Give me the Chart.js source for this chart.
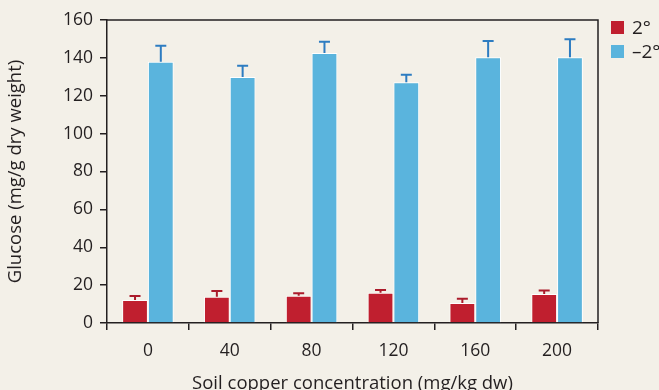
<!DOCTYPE html>
<html>
<head>
<meta charset="utf-8">
<script src="https://cdn.jsdelivr.net/npm/chart.js@4/dist/chart.umd.min.js"></script>
<style>
  html, body { margin: 0; padding: 0; background: #f3f0e8; overflow: hidden; }
  #wrap { width: 659px; height: 390px; }
</style>
</head>
<body>
<div id="wrap"><canvas id="c" width="659" height="390"></canvas></div>
<script>
// Soil copper treatments and glucose content per temperature series
const categories = ['0', '40', '80', '120', '160', '200'];
const warmValues = [12.1, 13.9, 14.4, 16.0, 10.6, 15.3];
const warmErrors = [2.1, 3.0, 1.3, 1.4, 2.2, 1.8];
const coldValues = [138.0, 129.9, 142.6, 127.1, 140.3, 140.3];
const coldErrors = [8.4, 6.0, 5.9, 4.0, 8.6, 9.5];
const yTicks = [0, 20, 40, 60, 80, 100, 120, 140, 160];
const seriesNames = ['2°', '–2°'];

const RED = '#c01f2f';
const BLUE = '#5ab4dd';
const INK = '#231f20';
const FONT = '"Open Sans", "Noto Sans", sans-serif';

// Upward-only error bars with caps, drawn on top of each bar
const errorBars = {
  id: 'errorBars',
  afterDatasetsDraw(chart) {
    const ctx = chart.ctx;
    const y = chart.scales.y;
    chart.data.datasets.forEach((ds, di) => {
      const meta = chart.getDatasetMeta(di);
      meta.data.forEach((bar, i) => {
        const top = y.getPixelForValue(ds.data[i] + ds.errors[i]);
        const base = y.getPixelForValue(ds.data[i]);
        ctx.save();
        ctx.strokeStyle = ds.errorColor;
        ctx.lineWidth = 2;
        ctx.beginPath();
        ctx.moveTo(bar.x, base);
        ctx.lineTo(bar.x, top);
        ctx.moveTo(bar.x - 5.5, top);
        ctx.lineTo(bar.x + 5.5, top);
        ctx.stroke();
        ctx.restore();
      });
    });
  }
};

// Frame, axis titles and legend
const frame = {
  id: 'frame',
  afterDraw(chart) {
    const ctx = chart.ctx;
    const a = chart.chartArea;
    ctx.save();
    ctx.strokeStyle = INK;
    ctx.lineWidth = 1.5;
    ctx.beginPath();
    ctx.moveTo(a.left, a.top);
    ctx.lineTo(a.right, a.top);
    ctx.lineTo(a.right, a.bottom);
    ctx.stroke();

    ctx.fillStyle = INK;
    ctx.font = '18.5px ' + FONT;
    ctx.textAlign = 'center';
    ctx.textBaseline = 'alphabetic';
    ctx.fillText('Soil copper concentration (mg/kg dw)', (a.left + a.right) / 2, 389);

    ctx.save();
    ctx.translate(21, (a.top + a.bottom) / 2);
    ctx.rotate(-Math.PI / 2);
    ctx.textBaseline = 'alphabetic';
    ctx.fillText('Glucose (mg/g dry weight)', 0, 0);
    ctx.restore();

    const colors = [RED, BLUE];
    ctx.textAlign = 'left';
    ctx.textBaseline = 'middle';
    ctx.font = '19px ' + FONT;
    seriesNames.forEach((name, i) => {
      const yy = 21 + i * 24;
      ctx.fillStyle = colors[i];
      ctx.fillRect(611, yy, 13, 13);
      ctx.fillStyle = INK;
      ctx.fillText(name, 632, yy + 7.5);
    });
    ctx.restore();
  }
};

new Chart(document.getElementById('c'), {
  type: 'bar',
  data: {
    labels: categories,
    datasets: [
      { label: seriesNames[0], data: warmValues, errors: warmErrors, errorColor: '#ab1b2b',
        backgroundColor: RED, borderColor: '#ffffff', borderWidth: 1 },
      { label: seriesNames[1], data: coldValues, errors: coldErrors, errorColor: '#2d7cc1',
        backgroundColor: BLUE, borderColor: '#ffffff', borderWidth: 1 }
    ]
  },
  options: {
    responsive: false,
    animation: false,
    devicePixelRatio: 1,
    layout: { padding: { left: 0, top: 20, right: 61, bottom: 0 } },
    plugins: { legend: { display: false }, tooltip: { enabled: false } },
    datasets: { bar: { categoryPercentage: 0.63, barPercentage: 1.0 } },
    scales: {
      x: {
        afterFit(s) { s.height = 67; },
        grid: { offset: true, drawOnChartArea: false, drawTicks: true, tickLength: 7,
                color: INK, lineWidth: 1.5 },
        border: { display: true, color: INK, width: 1.5 },
        ticks: { color: INK, font: { family: FONT, size: 17.5 }, padding: 11 }
      },
      y: {
        min: 0, max: 160,
        afterFit(s) { s.width = 107; },
        afterBuildTicks(s) { s.ticks = yTicks.map(v => ({ value: v })); },
        grid: { drawOnChartArea: false, drawTicks: true, tickLength: 7,
                color: INK, lineWidth: 1.5 },
        border: { display: true, color: INK, width: 1.5 },
        ticks: { color: INK, font: { family: FONT, size: 17.5 }, padding: 7 }
      }
    }
  },
  plugins: [errorBars, frame]
});
</script>
</body>
</html>
